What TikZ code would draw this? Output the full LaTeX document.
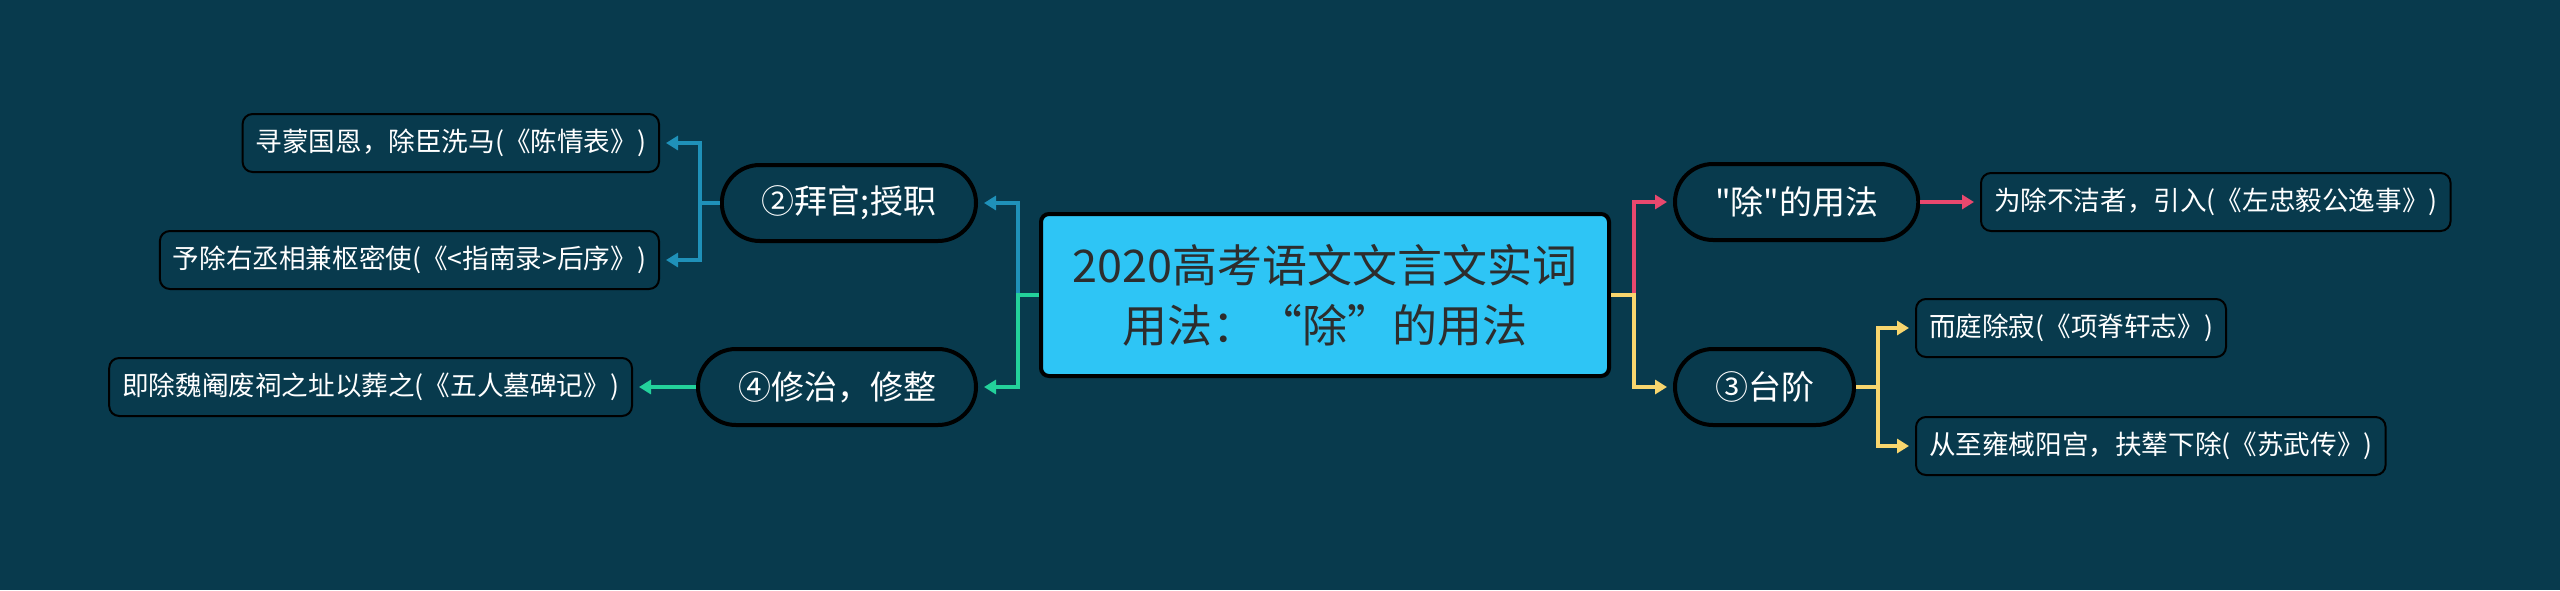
\documentclass[tikz,border=0pt]{standalone}
\usepackage{fontspec}
\setmainfont{Noto Sans CJK SC}[Ligatures=TeXOff]
\usetikzlibrary{arrows.meta}

\definecolor{bgcol}{RGB}{8,58,77}
\definecolor{rootcol}{RGB}{46,197,245}
\definecolor{roottext}{RGB}{45,45,45}
\definecolor{bluecol}{RGB}{31,145,185}
\definecolor{greencol}{RGB}{35,209,155}
\definecolor{pinkcol}{RGB}{232,72,110}
\definecolor{yellowcol}{RGB}{248,214,110}

\begin{document}
\begin{tikzpicture}[x=0.5pt,y=-0.5pt,
  root/.style={draw=black,line width=2pt,fill=rootcol,rounded corners=4pt,
    minimum width=284pt,minimum height=81pt,align=center,text=roottext,
    font=\fontsize{22.5}{30}\selectfont},
  branch/.style={draw=black,line width=2pt,fill=bgcol,rounded corners=19pt,
    minimum height=38pt,inner xsep=20pt,text=white,font=\fontsize{16.5}{20}\selectfont},
  leaf/.style={draw=black,line width=1pt,fill=bgcol,rounded corners=5pt,
    minimum height=29pt,inner xsep=6.5pt,text=white,font=\fontsize{13.3}{16}\selectfont},
  link/.style={line width=2pt,-{Triangle[length=6pt,width=7pt]},shorten >=3pt}]

\fill[bgcol] (0,0) rectangle (2560,590);
\useasboundingbox (0,0) rectangle (2560,590);

\node [root] (root) at (1325,295) {2020高考语文文言文实词\\用法：“除”的用法};

% left side
\node [branch,anchor=east] (bai) at (978,203) {②拜官;授职};
\node [branch,anchor=east] (xiu) at (978,387) {④修治，修整};
\node [leaf,anchor=east] (l1) at (660,143) {寻蒙国恩，除臣洗马(《陈情表》)};
\node [leaf,anchor=east] (l2) at (660,260) {予除右丞相兼枢密使(《<指南录>后序》)};
\node [leaf,anchor=east] (l3) at (633,387) {即除魏阉废祠之址以葬之(《五人墓碑记》)};

% right side
\node [branch,anchor=west] (chu) at (1673,202) {"除"的用法};
\node [branch,anchor=west] (tai) at (1673,387) {③台阶};
\node [leaf,anchor=west] (r1) at (1980,202) {为除不洁者，引入(《左忠毅公逸事》)};
\node [leaf,anchor=west] (r2) at (1915,328) {而庭除寂(《项脊轩志》)};
\node [leaf,anchor=west] (r3) at (1915,446) {从至雍棫阳宫，扶辇下除(《苏武传》)};

\draw[link,bluecol] (root.west) -- ++(-21,0) |- (bai.east);
\draw[link,greencol] (root.west) -- ++(-21,0) |- (xiu.east);
\draw[link,bluecol] (bai.west) -- ++(-20,0) |- (l1.east);
\draw[link,bluecol] (bai.west) -- ++(-20,0) |- (l2.east);
\draw[link,greencol] (xiu.west) -- (l3.east);

\draw[link,pinkcol] (root.east) -- ++(23,0) |- (chu.west);
\draw[link,yellowcol] (root.east) -- ++(23,0) |- (tai.west);
\draw[link,pinkcol] (chu.east) -- (r1.west);
\draw[link,yellowcol] (tai.east) -- ++(22,0) |- (r2.west);
\draw[link,yellowcol] (tai.east) -- ++(22,0) |- (r3.west);
\end{tikzpicture}
\end{document}
